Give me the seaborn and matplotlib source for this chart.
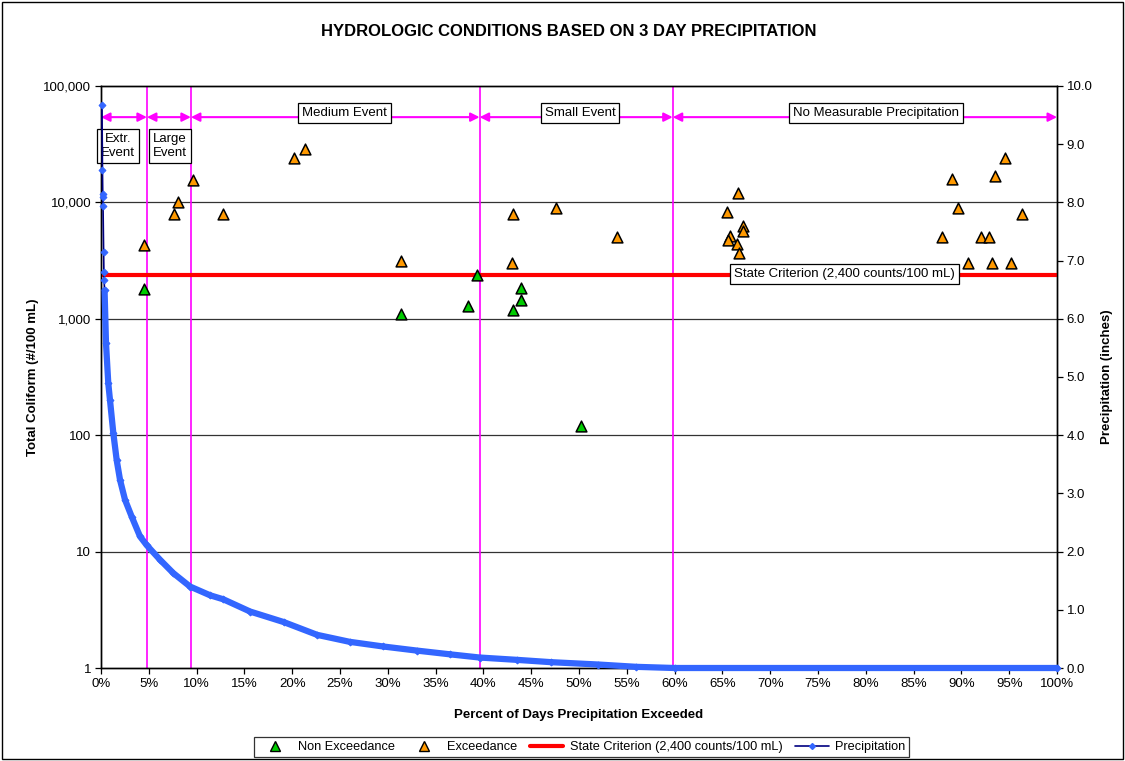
import matplotlib
matplotlib.use("Agg")
import matplotlib.pyplot as plt
import matplotlib.ticker as mticker
from matplotlib.lines import Line2D
from matplotlib.patches import Rectangle
import pandas as pd
import seaborn as sns

sns.set_theme(style="white")
plt.rcParams['font.family'] = ['Liberation Sans', 'DejaVu Sans']
plt.rcParams.update({
    'text.color': 'black', 'axes.labelcolor': 'black',
    'xtick.color': 'black', 'ytick.color': 'black',
    'axes.edgecolor': 'black', 'axes.linewidth': 1.0,
})

# --- sample results: percent of days exceeded vs total coliform (#/100 mL)
non_exc_pct = [4.5, 31.4, 38.4, 39.3, 43.1, 43.9, 43.9, 50.2]
non_exc_val = [1800, 1100, 1300, 2400, 1200, 1450, 1850, 120]

exc_pct = [4.5, 7.6, 8.0, 9.6, 12.8, 20.2, 21.3, 31.4, 43.0, 43.1, 47.6, 54.0,
           65.5, 65.8, 65.6, 66.6, 67.1, 67.1, 66.5, 66.7,
           88.0, 89.0, 89.6, 90.7, 92.0, 92.9, 93.2, 93.5, 94.6, 95.2, 96.3]
exc_val = [4300, 8000, 10000, 15500, 8000, 24000, 29000, 3150, 3000, 8000, 9000, 5000,
           8300, 5100, 4750, 12000, 6300, 5700, 4400, 3700,
           5000, 16000, 9000, 3000, 5000, 5000, 3000, 17000, 24000, 3000, 8000]

# --- state criterion
criterion = 2400
crit_pct = [0, 100]

# --- 3-day precipitation duration curve (inches)
precip_pct = [0.10, 0.15, 0.18, 0.19, 0.21, 0.27, 0.30, 0.32, 0.37, 0.52, 0.76, 0.94,
              1.29, 1.64, 1.99, 2.51, 3.21, 4.08, 4.78, 6.17, 7.56, 9.31, 11.4, 12.8,
              15.6, 19.1, 22.6, 26.0, 29.5, 33.0, 36.5, 39.6, 43.5, 47.1, 52.0, 56.0,
              60.0, 100.0]
precip_in = [9.67, 8.56, 8.15, 8.10, 7.93, 7.15, 6.81, 6.67, 6.49, 5.58, 4.89, 4.60,
             4.03, 3.57, 3.23, 2.89, 2.60, 2.26, 2.11, 1.86, 1.63, 1.40, 1.25, 1.18,
             0.97, 0.79, 0.57, 0.45, 0.37, 0.30, 0.235, 0.18, 0.14, 0.10, 0.06, 0.02,
             0.0, 0.0]

# --- hydrologic condition zones (percent boundaries)
zone_bounds = [0, 4.8, 9.4, 39.6, 59.8, 100]

x_ticks = list(range(0, 101, 5))
y_ticks = [1, 10, 100, 1000, 10000, 100000]
p_ticks = [0, 1, 2, 3, 4, 5, 6, 7, 8, 9, 10]

GREEN = '#00CC00'
ORANGE = '#FF9900'
RED = '#FF0000'
MAGENTA = '#FF00FF'
NAVY = '#000080'
BLUE = '#3366FF'

fig = plt.figure(figsize=(11.25, 7.61), dpi=100)
ax = fig.add_axes([0.0898, 0.1222, 0.8498, 0.7648])
ax2 = ax.twinx()

# left axis: coliform
ax.set_yscale('log')
ax.set_ylim(1, 100000)
ax.set_xlim(0, 100)
ax.yaxis.set_major_locator(mticker.FixedLocator(y_ticks))
ax.yaxis.set_minor_locator(mticker.NullLocator())
ax.yaxis.set_major_formatter(mticker.FuncFormatter(lambda v, p: f"{int(round(v)):,}"))
ax.set_xticks(x_ticks)
ax.xaxis.set_major_formatter(mticker.FuncFormatter(lambda v, p: f"{int(v)}%"))
for t in y_ticks[1:-1]:
    ax.axhline(t, color='#333333', lw=0.9, zorder=0.5)

# zone dividers and arrows
for b in zone_bounds[1:-1]:
    ax.axvline(b, color=MAGENTA, lw=1.2, zorder=1)
arrow_y = 54000
for a, b in zip(zone_bounds[:-1], zone_bounds[1:]):
    ax.annotate('', xy=(b, arrow_y), xytext=(a, arrow_y),
                arrowprops=dict(arrowstyle='<|-|>', color=MAGENTA, lw=1.5,
                                shrinkA=0, shrinkB=0, mutation_scale=13),
                zorder=2, annotation_clip=False)

box = dict(boxstyle='square,pad=0.3', fc='white', ec='black', lw=0.9)
lab_kw = dict(ha='center', va='center', fontsize=9.5, bbox=box, zorder=6)
ax.text(25.5, 58600, 'Medium Event', **lab_kw)
ax.text(50.1, 58600, 'Small Event', **lab_kw)
ax.text(81.1, 58600, 'No Measurable Precipitation', **lab_kw)
ax.text(1.78, 30500, 'Extr.\nEvent', linespacing=1.3, **lab_kw)
ax.text(7.2, 30500, 'Large\nEvent', linespacing=1.3, **lab_kw)

# criterion line
crit_df = pd.DataFrame({'pct': crit_pct, 'val': [criterion] * len(crit_pct)})
sns.lineplot(data=crit_df, x='pct', y='val', ax=ax, color=RED, lw=3, zorder=3,
             legend=False)
ax.text(77.8, 2427, 'State Criterion (2,400 counts/100 mL)', **lab_kw)

# sample points
ne_df = pd.DataFrame({'pct': non_exc_pct, 'val': non_exc_val})
ex_df = pd.DataFrame({'pct': exc_pct, 'val': exc_val})
sns.scatterplot(data=ne_df, x='pct', y='val', ax=ax, marker='^', s=60,
                color=GREEN, edgecolor='black', linewidth=1.1, zorder=5, legend=False)
sns.scatterplot(data=ex_df, x='pct', y='val', ax=ax, marker='^', s=60,
                color=ORANGE, edgecolor='black', linewidth=1.1, zorder=5, legend=False)

# right axis: precipitation
pr_df = pd.DataFrame({'pct': precip_pct, 'inch': precip_in})
band = pr_df[pr_df['pct'] >= 0.37]
sns.lineplot(data=pr_df, x='pct', y='inch', ax=ax2, color=NAVY, lw=1.2,
             marker='D', markersize=3.5, markerfacecolor=BLUE, markeredgecolor=BLUE,
             sort=False, estimator=None, legend=False, zorder=3)
sns.lineplot(data=band, x='pct', y='inch', ax=ax2, color=BLUE, lw=4.5,
             sort=False, estimator=None, legend=False, zorder=4)
for ln in ax2.lines:
    ln.set_clip_on(False)
ax2.set_ylim(0, 10)
ax2.set_yticks(p_ticks)
ax2.yaxis.set_major_formatter(mticker.FuncFormatter(lambda v, p: f"{v:.1f}"))
ax2.set_xlim(0, 100)

for a in (ax, ax2):
    a.tick_params(axis='both', labelsize=9.5, length=4, width=0.9, direction='out')
ax.tick_params(bottom=True, left=True, pad=3)
ax2.tick_params(right=True, pad=3)
for s in ax.spines.values():
    s.set_color('black')

ax.set_xlabel('Percent of Days Precipitation Exceeded', fontsize=9.5,
              fontweight='bold', labelpad=14)
ax.set_ylabel('Total Coliform (#/100 mL)', fontsize=9.5, fontweight='bold', labelpad=3)
ax2.set_ylabel('Precipitation (inches)', fontsize=9.5, fontweight='bold', labelpad=6)

fig.text(0.5058, 0.958, 'HYDROLOGIC CONDITIONS BASED ON 3 DAY PRECIPITATION',
         ha='center', va='center', fontsize=12, fontweight='bold')

handles = [
    Line2D([], [], ls='none', marker='^', markersize=7, markerfacecolor=GREEN,
           markeredgecolor='black', markeredgewidth=1),
    Line2D([], [], ls='none', marker='^', markersize=7, markerfacecolor=ORANGE,
           markeredgecolor='black', markeredgewidth=1),
    Line2D([], [], color=RED, lw=3),
    Line2D([], [], color=NAVY, lw=1.2, marker='D', markersize=3,
           markerfacecolor=BLUE, markeredgecolor=BLUE),
]
labels = ['Non Exceedance', 'Exceedance', 'State Criterion (2,400 counts/100 mL)',
          'Precipitation']
leg = fig.legend(handles, labels, loc='center', bbox_to_anchor=(0.517, 0.0184),
                 ncol=4, fontsize=9.2, frameon=True, fancybox=False, borderpad=0.3,
                 handlelength=2.6, handletextpad=0.5, columnspacing=1.0,
                 borderaxespad=0)
leg.get_frame().set_edgecolor('black')
leg.get_frame().set_linewidth(0.9)

fig.patches.append(Rectangle((0.002, 0.002), 0.996, 0.996, transform=fig.transFigure,
                             fill=False, ec='black', lw=1.0))

fig.savefig('out.png', dpi=100)
